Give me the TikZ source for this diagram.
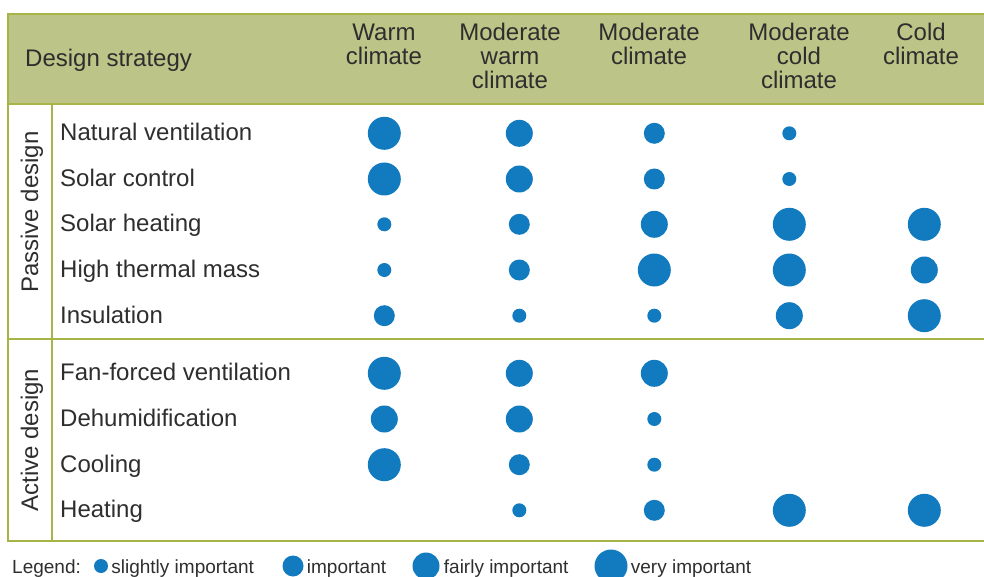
\documentclass[tikz,border=0pt]{standalone}
\usepackage{fontspec}
\setmainfont{Liberation Sans}
\usetikzlibrary{positioning}

\definecolor{headgreen}{HTML}{BDC487}
\definecolor{rulegreen}{HTML}{A9B446}
\definecolor{dotblue}{HTML}{127BC0}
\definecolor{txtgray}{HTML}{2E2E2E}

\tikzset{
  dot/.style={circle, fill=dotblue, inner sep=0pt},
  imp1/.style={dot, minimum size=14pt},
  imp2/.style={dot, minimum size=21pt},
  imp3/.style={dot, minimum size=27pt},
  imp4/.style={dot, minimum size=33pt},
  rowtext/.style={anchor=base west, inner sep=0pt, text=txtgray, font=\fontsize{24}{24}\selectfont},
  colhead/.style={anchor=north, align=center, inner sep=0pt, text=txtgray, font=\fontsize{24}{24}\selectfont},
  sidetext/.style={rotate=90, inner sep=0pt, text=txtgray, font=\fontsize{24}{24}\selectfont},
  legtext/.style={anchor=base west, inner sep=0pt, text=txtgray, font=\fontsize{19}{19}\selectfont},
  rule/.style={draw=rulegreen, line width=2pt}
}

\begin{document}
\begin{tikzpicture}[x=1pt, y=-1pt, node distance=3pt]
    \useasboundingbox (0,0) rectangle (984,577);

    \fill[headgreen] (8,14) rectangle (984,104);
    \draw[rule] (984,14) -- (8,14) -- (8,541) -- (984,541);
    \draw[rule] (8,104) -- (984,104);
    \draw[rule] (8,339) -- (984,339);
    \draw[rule] (52,104) -- (52,541);

    \node[rowtext]                (H0) at (25,67)    {Design strategy};
    \node[colhead]                (H1) at (384,23.4) {Warm\\climate};
    \node[colhead]                (H2) at (510,23.4) {Moderate\\warm\\climate};
    \node[colhead]                (H3) at (649,23.4) {Moderate\\climate};
    \node[colhead]                (H4) at (799,23.4) {Moderate\\cold\\climate};
    \node[colhead]                (H5) at (921,23.4) {Cold\\climate};

    \node[sidetext]               (S1) at (32,212)   {Passive design};
    \node[sidetext]               (S2) at (32,440)   {Active design};

    \foreach \r/\yy/\lab/\list in {
        1/133.3/Natural ventilation/{4,3,2,1,0},
        2/179.0/Solar control/{4,3,2,1,0},
        3/224.3/Solar heating/{1,2,3,4,4},
        4/270.0/High thermal mass/{1,2,4,4,3},
        5/315.7/Insulation/{2,1,1,3,4},
        6/373.3/Fan-forced ventilation/{4,3,3,0,0},
        7/419.0/Dehumidification/{3,3,1,0,0},
        8/464.7/Cooling/{4,2,1,0,0},
        9/510.3/Heating/{0,1,2,4,4}} {
      \node[rowtext] (R\r) at (60,\yy+7.5) {\lab};
      \foreach \s [count=\c] in \list {
        \ifnum\s>0
          \node[imp\s] (D\r-\c) at (249.3+135*\c,\yy) {};
        \fi
      }
    }

    \node[legtext]                   (L0) at (12,573) {Legend:};
    \node[imp1]                      (L1) at (101,566) {};
    \node[legtext]                   (T1) at ([xshift=3pt]L1.east |- L0.base) {slightly important};
    \node[imp2]                      (L2) at (293,566) {};
    \node[legtext]                   (T2) at ([xshift=3pt]L2.east |- L0.base) {important};
    \node[imp3]                      (L3) at (426,566) {};
    \node[legtext]                   (T3) at ([xshift=4pt]L3.east |- L0.base) {fairly important};
    \node[imp4]                      (L4) at (611,566) {};
    \node[legtext]                   (T4) at ([xshift=3pt]L4.east |- L0.base) {very important};
\end{tikzpicture}
\end{document}
